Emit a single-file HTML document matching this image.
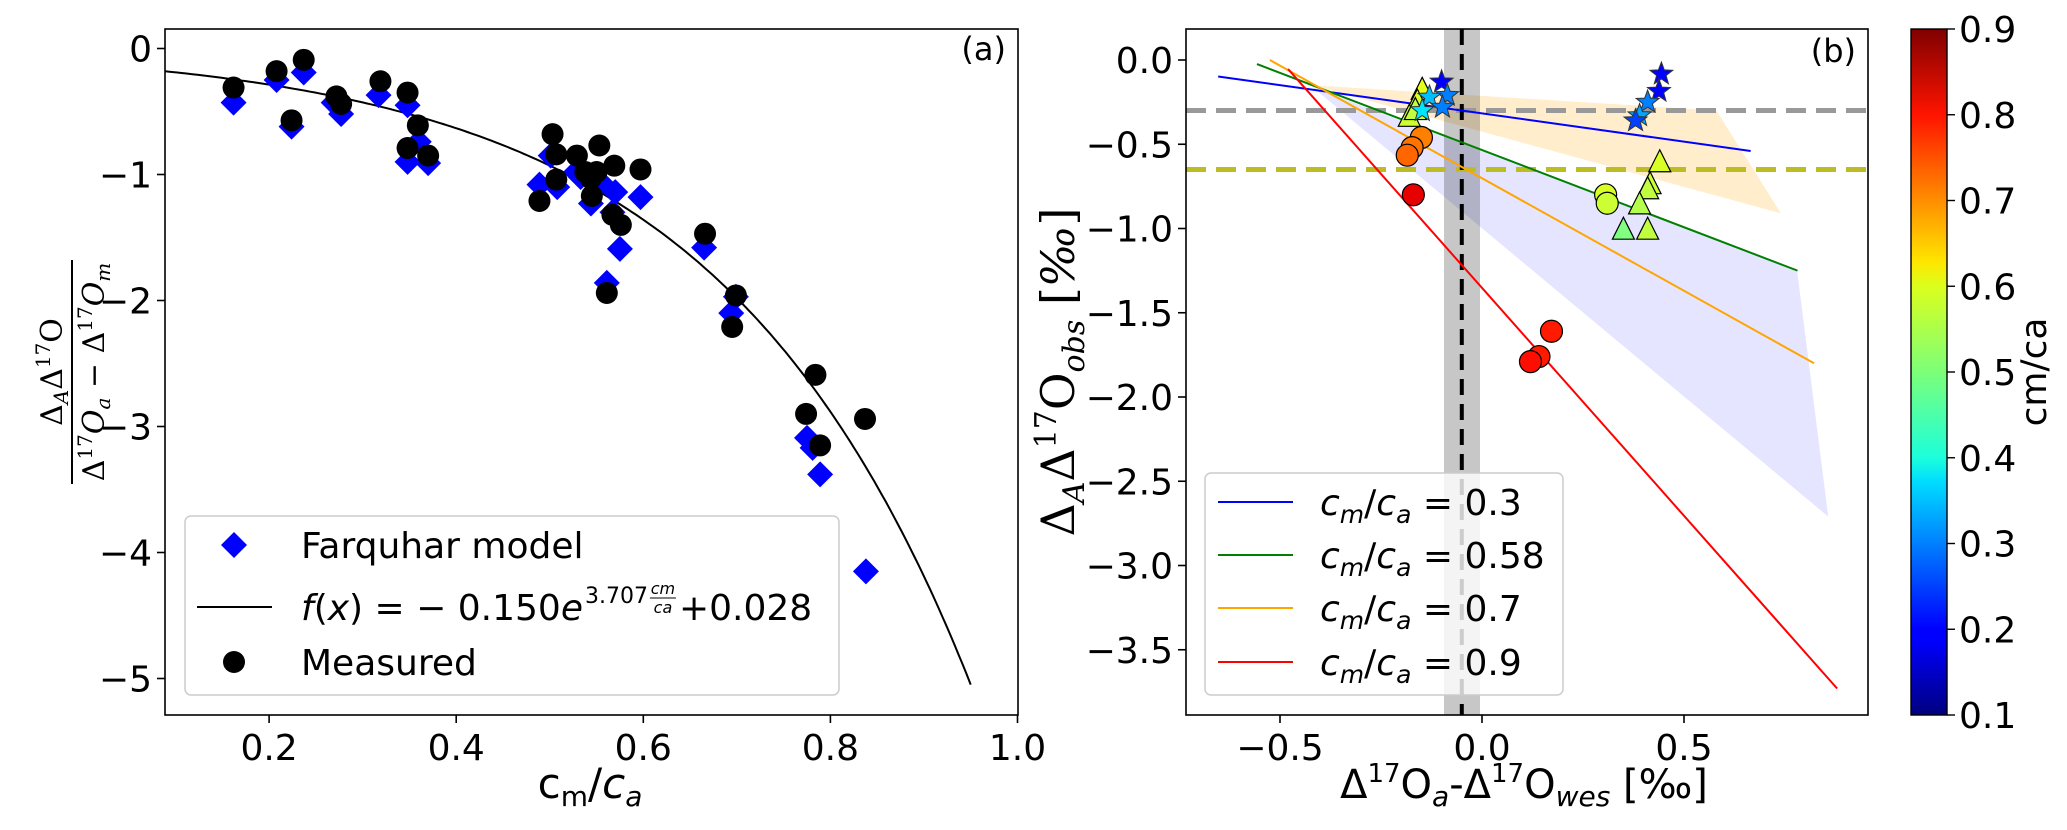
<!DOCTYPE html>
<html><head><meta charset="utf-8"><style>
body{margin:0;background:#fff;}
svg{display:block;font-family:"DejaVu Sans","Liberation Sans",sans-serif;}
</style></head><body>
<svg id="fig" width="2067" height="830" viewBox="0 0 2067 830" xmlns="http://www.w3.org/2000/svg">
<defs>
<linearGradient id="jet" x1="0" y1="1" x2="0" y2="0">
<stop offset="0" stop-color="#00007f"/><stop offset="0.11" stop-color="#0000ff"/><stop offset="0.125" stop-color="#0000ff"/>
<stop offset="0.34" stop-color="#00dcff"/><stop offset="0.375" stop-color="#1cffdb"/>
<stop offset="0.5" stop-color="#7cff79"/><stop offset="0.625" stop-color="#dbff1c"/><stop offset="0.66" stop-color="#ffe600"/>
<stop offset="0.875" stop-color="#ff1400"/><stop offset="1" stop-color="#7f0000"/>
</linearGradient>
<clipPath id="clipA"><rect x="165" y="29" width="853" height="686"/></clipPath>
<clipPath id="clipB"><rect x="1186" y="29" width="682" height="686"/></clipPath>
</defs>
<g id="panelA"></g>
<g id="panelB"></g>
<g id="cbar"></g>
</svg>
<script>
// ---------- Panel A data ----------
const measX=[0.162,0.208,0.224,0.237,0.272,0.277,0.319,0.348,0.348,0.359,0.370,0.489,0.503,0.507,0.507,0.529,0.538,0.544,0.550,0.553,0.545,0.569,0.567,0.576,0.561,0.597,0.666,0.699,0.695,0.784,0.774,0.789,0.837];
const measY=[-0.31,-0.18,-0.57,-0.09,-0.38,-0.44,-0.26,-0.35,-0.79,-0.61,-0.85,-1.21,-0.68,-0.84,-1.04,-0.85,-0.98,-1.03,-0.98,-0.77,-1.17,-0.93,-1.32,-1.40,-1.94,-0.96,-1.47,-1.96,-2.21,-2.59,-2.90,-3.15,-2.94];
const farqX=[0.162,0.208,0.224,0.237,0.269,0.277,0.317,0.348,0.348,0.360,0.370,0.489,0.501,0.508,0.528,0.533,0.544,0.554,0.570,0.567,0.575,0.561,0.597,0.665,0.699,0.694,0.775,0.781,0.789,0.838];
const farqY=[-0.43,-0.25,-0.62,-0.19,-0.43,-0.52,-0.37,-0.45,-0.90,-0.74,-0.91,-1.08,-0.85,-1.10,-0.98,-1.02,-1.23,-1.06,-1.14,-1.30,-1.59,-1.86,-1.18,-1.58,-1.97,-2.10,-3.09,-3.17,-3.38,-4.15];
const fitA=-0.150, fitB=3.707, fitC=0.028;
const aXTicks=[0.2,0.4,0.6,0.8,1.0];
const aXTickLabels=["0.2","0.4","0.6","0.8","1.0"];
const aYTicks=[0,-1,-2,-3,-4,-5];
const aYTickLabels=["0","\u22121","\u22122","\u22123","\u22124","\u22125"];
// ---------- Panel B data ----------
const lineCm=[0.3,0.58,0.7,0.9];
const lineColors=["#0000ff","#008000","#ffa500","#ff0000"];
const lineX0=[-0.653,-0.557,-0.525,-0.48];
const lineY0=[-0.098,-0.024,0.0,-0.054];
const lineX1=[0.665,0.781,0.822,0.879];
const lineY1=[-0.54,-1.25,-1.80,-3.73];
const shadeOrangeX=[-0.42,0.58,0.74];
const shadeOrangeY=[-0.15,-0.30,-0.91];
const shadeBlueX=[-0.42,0.78,0.857];
const shadeBlueY=[-0.16,-1.25,-2.71];
const hGray=-0.3, hYellow=-0.65, vBlack=-0.05, bandLo=-0.094, bandHi=-0.005;
const starX=[-0.10,-0.086,-0.13,-0.148,-0.098,0.444,0.438,0.41,0.39,0.38];
const starY=[-0.13,-0.21,-0.22,-0.30,-0.28,-0.083,-0.185,-0.25,-0.33,-0.36];
const starC=[0.2,0.3,0.35,0.38,0.3,0.2,0.2,0.3,0.33,0.25];
const triX=[-0.148,-0.16,-0.18,-0.165,0.44,0.416,0.41,0.39,0.35,0.41];
const triY=[-0.18,-0.25,-0.34,-0.30,-0.61,-0.74,-0.77,-0.86,-1.01,-1.01];
const triC=[0.58,0.57,0.56,0.55,0.57,0.56,0.55,0.54,0.5,0.55];
const circX=[-0.15,-0.173,-0.185,-0.17,0.306,0.31,0.172,0.141,0.12];
const circY=[-0.46,-0.52,-0.565,-0.80,-0.80,-0.85,-1.61,-1.76,-1.79];
const circC=[0.7,0.71,0.72,0.82,0.57,0.56,0.78,0.78,0.79];
const bXTicks=[-0.5,0.0,0.5];
const bXTickLabels=["\u22120.5","0.0","0.5"];
const bYTicks=[0,-0.5,-1,-1.5,-2,-2.5,-3,-3.5];
const bYTickLabels=["0.0","\u22120.5","\u22121.0","\u22121.5","\u22122.0","\u22122.5","\u22123.0","\u22123.5"];
const cbTicks=[0.1,0.2,0.3,0.4,0.5,0.6,0.7,0.8,0.9];
const cbTickLabels=["0.1","0.2","0.3","0.4","0.5","0.6","0.7","0.8","0.9"];

const NS="http://www.w3.org/2000/svg";
function mk(tag,attrs,parent){const e=document.createElementNS(NS,tag);for(const k in attrs)e.setAttribute(k,attrs[k]);parent.appendChild(e);return e;}
function jet(v){let t=(v-0.1)/0.8;t=Math.max(0,Math.min(1,t));
 const r=Math.max(0,Math.min(1,Math.min(4*t-1.5,-4*t+4.5)));
 const g=Math.max(0,Math.min(1,Math.min(4*t-0.5,-4*t+3.5)));
 const b=Math.max(0,Math.min(1,Math.min(4*t+0.5,-4*t+2.5)));
 return `rgb(${Math.round(r*255)},${Math.round(g*255)},${Math.round(b*255)})`;}

// ===== Panel A =====
const A=document.getElementById('panelA');
const aL=165,aR=1018,aT=29,aB=715;
const axX=x=>82+ (x)*935.5;
const axY=y=>48.5-y*126;
const plotA=mk('g',{'clip-path':'url(#clipA)'},A);


let d='';for(let i=0;i<=200;i++){const x=0.089+(0.95-0.089)*i/200;const y=fitA*Math.exp(fitB*x)+fitC;d+=(i?'L':'M')+axX(x).toFixed(1)+','+axY(y).toFixed(1);}
const fc=mk('path',{d:d,fill:'none',stroke:'#000','stroke-width':2},plotA);


for(let i=0;i<farqX.length;i++){const cx=axX(farqX[i]),cy=axY(farqY[i]),s=13;
 const p=mk('polygon',{points:`${cx},${cy-s} ${cx+s},${cy} ${cx},${cy+s} ${cx-s},${cy}`,fill:'#0000ff'},plotA);
 
 }
for(let i=0;i<measX.length;i++){
 const c=mk('circle',{cx:axX(measX[i]),cy:axY(measY[i]),r:11,fill:'#000'},plotA);
 
 }
mk('rect',{x:aL,y:aT,width:aR-aL,height:aB-aT,fill:'none',stroke:'#000','stroke-width':1.6},A);
for(let i=0;i<aXTicks.length;i++){const x=axX(aXTicks[i]);
 mk('line',{x1:x,x2:x,y1:aB,y2:aB+8,stroke:'#000','stroke-width':1.6},A);
 const t=mk('text',{x:x,y:aB+45,'font-size':36,'text-anchor':'middle'},A);t.textContent=aXTickLabels[i];
 
 }
for(let i=0;i<aYTicks.length;i++){const y=axY(aYTicks[i]);
 mk('line',{x1:aL-8,x2:aL,y1:y,y2:y,stroke:'#000','stroke-width':1.6},A);
 const t=mk('text',{x:aL-13,y:y+13,'font-size':36,'text-anchor':'end'},A);t.textContent=aYTickLabels[i];
 
 }
</script>
<script>
(function(){
const A=document.getElementById('panelA');
A.insertAdjacentHTML('beforeend',`
<text x="1006" y="60" font-size="32" text-anchor="end">(a)</text>
<g>
<rect x="185" y="516" width="654" height="179" rx="6" fill="#fff" fill-opacity="0.8" stroke="#ccc" stroke-width="1.5"/>
<polygon points="234,532 247,545 234,558 221,545" fill="#0000ff"/>
<text x="301" y="558" font-size="36">Farquhar model</text>
<line x1="197" x2="272" y1="607" y2="607" stroke="#000" stroke-width="2"/>
<text id="fitMain" x="301" y="620" font-size="36"><tspan font-style="italic">f</tspan>(<tspan font-style="italic">x</tspan>) = − 0.150<tspan font-style="italic">e</tspan></text>
<circle cx="234" cy="662" r="11" fill="#000"/>
<text x="301" y="675" font-size="36">Measured</text>
</g>
<text x="590" y="798" font-size="42" text-anchor="middle">c<tspan font-size="28" dy="8">m</tspan><tspan dy="-8">/</tspan><tspan font-style="italic">c</tspan><tspan font-size="28" dy="8" font-style="italic">a</tspan></text>
<g transform="translate(72,372) rotate(-90)" font-family="DejaVu Serif, serif">
<text x="0" y="-10" font-size="30" text-anchor="middle">Δ<tspan font-size="20" dy="6" font-style="italic">A</tspan><tspan dy="-6">Δ</tspan><tspan font-size="20" dy="-12">17</tspan><tspan dy="12">O</tspan></text>
<line x1="-112" x2="112" y1="0" y2="0" stroke="#000" stroke-width="2"/>
<text x="0" y="32" font-size="30" text-anchor="middle">Δ<tspan font-size="20" dy="-12">17</tspan><tspan dy="12" font-style="italic">O</tspan><tspan font-size="20" dy="6" font-style="italic">a</tspan><tspan dy="-6"> − Δ</tspan><tspan font-size="20" dy="-12">17</tspan><tspan dy="12" font-style="italic">O</tspan><tspan font-size="20" dy="6" font-style="italic">m</tspan></text>
</g>`);
const fm=document.getElementById('fitMain');
let x=301+fm.getComputedTextLength()+2;
const g=fm.parentNode;
const ex=mk('text',{x:x,y:603,'font-size':22},g);ex.textContent='3.707';


x+=ex.getComputedTextLength()+2;
const nu=mk('text',{x:x+13,y:594,'font-size':16,'font-style':'italic','text-anchor':'middle'},g);nu.textContent='cm';


mk('line',{x1:x,x2:x+26,y1:598,y2:598,stroke:'#000','stroke-width':1},g);
const de=mk('text',{x:x+13,y:613,'font-size':16,'font-style':'italic','text-anchor':'middle'},g);de.textContent='ca';


const tl=mk('text',{x:x+29,y:620,'font-size':36},g);tl.textContent='+0.028';


})();
</script>
<script>
(function(){
const B=document.getElementById('panelB');
const bL=1186,bR=1868,bT=29,bB=715;
const bx=x=>1482+x*404;
const by=y=>60-y*168.5;
const P=mk('g',{'clip-path':'url(#clipB)'},B);


let pts=shadeBlueX.map((x,i)=>bx(x)+','+by(shadeBlueY[i])).join(' ');
const s1=mk('polygon',{points:pts,fill:'#0000ff','fill-opacity':0.1},P);


pts=shadeOrangeX.map((x,i)=>bx(x)+','+by(shadeOrangeY[i])).join(' ');
const s2=mk('polygon',{points:pts,fill:'#ffa500','fill-opacity':0.2},P);


const band=mk('rect',{x:bx(bandLo),y:bT,width:bx(bandHi)-bx(bandLo),height:bB-bT,fill:'#000','fill-opacity':0.22},P);


const hg=mk('line',{x1:bL,x2:bR,y1:by(hGray),y2:by(hGray),stroke:'#999','stroke-width':5,'stroke-dasharray':'20 10'},P);


const hy=mk('line',{x1:bL,x2:bR,y1:by(hYellow),y2:by(hYellow),stroke:'#bcbd22','stroke-width':5,'stroke-dasharray':'20 10'},P);


const vb=mk('line',{x1:bx(vBlack),x2:bx(vBlack),y1:bT,y2:bB,stroke:'#000','stroke-width':4,'stroke-dasharray':'16 9'},P);


for(let i=0;i<lineCm.length;i++){
 const l=mk('line',{x1:bx(lineX0[i]),y1:by(lineY0[i]),x2:bx(lineX1[i]),y2:by(lineY1[i]),stroke:lineColors[i],'stroke-width':2},P);
 
 }
for(let i=0;i<triX.length;i++){const cx=bx(triX[i]),cy=by(triY[i]);
 const t=mk('polygon',{points:`${cx},${cy-13} ${cx+11},${cy+9} ${cx-11},${cy+9}`,fill:jet(triC[i]),stroke:'#000','stroke-width':1.2},P);
 
 }
for(let i=0;i<circX.length;i++){
 const c=mk('circle',{cx:bx(circX[i]),cy:by(circY[i]),r:11,fill:jet(circC[i]),stroke:'#000','stroke-width':1.2},P);
 
 }
for(let i=0;i<starX.length;i++){const cx=bx(starX[i]),cy=by(starY[i]);let p='';
 for(let k=0;k<10;k++){const r=k%2?5:12,a=-Math.PI/2+k*Math.PI/5;p+=(cx+r*Math.cos(a)).toFixed(1)+','+(cy+r*Math.sin(a)).toFixed(1)+' ';}
 const s=mk('polygon',{points:p,fill:jet(starC[i]),stroke:'#333','stroke-width':1},P);
 
 }
mk('rect',{x:bL,y:bT,width:bR-bL,height:bB-bT,fill:'none',stroke:'#000','stroke-width':1.6},B);
for(let i=0;i<bXTicks.length;i++){const x=bx(bXTicks[i]);
 mk('line',{x1:x,x2:x,y1:bB,y2:bB+8,stroke:'#000','stroke-width':1.6},B);
 const t=mk('text',{x:x,y:bB+45,'font-size':36,'text-anchor':'middle'},B);t.textContent=bXTickLabels[i];
 
 }
for(let i=0;i<bYTicks.length;i++){const y=by(bYTicks[i]);
 mk('line',{x1:bL-8,x2:bL,y1:y,y2:y,stroke:'#000','stroke-width':1.6},B);
 const t=mk('text',{x:bL-13,y:y+13,'font-size':36,'text-anchor':'end'},B);t.textContent=bYTickLabels[i];
 
 }
const lg=mk('g',{},B);


mk('rect',{x:1205,y:473,width:358,height:222,rx:6,fill:'#fff','fill-opacity':0.8,stroke:'#ccc','stroke-width':1.5},lg);
const rows=[502,555,608,662];
for(let i=0;i<lineCm.length;i++){
 mk('line',{x1:1218,x2:1293,y1:rows[i],y2:rows[i],stroke:lineColors[i],'stroke-width':2},lg);
 const t=mk('text',{x:1320,y:rows[i]+13,'font-size':36},lg);
 t.innerHTML=`<tspan font-style="italic">c</tspan><tspan font-style="italic" font-size="25" dy="8">m</tspan><tspan dy="-8">/</tspan><tspan font-style="italic">c</tspan><tspan font-style="italic" font-size="25" dy="8">a</tspan><tspan dy="-8"> = ${lineCm[i]}</tspan>`;
 
 }
B.insertAdjacentHTML('beforeend',`
<text x="1856" y="62" font-size="32" text-anchor="end">(b)</text>
<text x="1524" y="798" font-size="40" text-anchor="middle">Δ<tspan font-size="26" dy="-16">17</tspan><tspan dy="16">O</tspan><tspan font-size="28" dy="8" font-style="italic">a</tspan><tspan dy="-8">-Δ</tspan><tspan font-size="26" dy="-16">17</tspan><tspan dy="16">O</tspan><tspan font-size="28" dy="8" font-style="italic">wes</tspan><tspan dy="-8"> [‰]</tspan></text>
<text transform="translate(1074,372) rotate(-90)" font-size="46" text-anchor="middle" font-family="DejaVu Serif, serif">Δ<tspan font-size="30" dy="10" font-style="italic">A</tspan><tspan dy="-10">Δ</tspan><tspan font-size="30" dy="-18">17</tspan><tspan dy="18">O</tspan><tspan font-size="30" dy="10" font-style="italic">obs</tspan><tspan dy="-10"> [</tspan><tspan font-style="italic">‰</tspan>]</text>`);
})();
(function(){
const C=document.getElementById('cbar');
const cT=29,cB=715,cL=1911,cR=1947;
const cy=v=>cB-(v-0.1)/0.8*(cB-cT);
mk('rect',{x:cL,y:cT,width:cR-cL,height:cB-cT,fill:'url(#jet)',stroke:'#000','stroke-width':1.4},C);
for(let i=0;i<cbTicks.length;i++){const y=cy(cbTicks[i]);
 mk('line',{x1:cR,x2:cR+8,y1:y,y2:y,stroke:'#000','stroke-width':1.4},C);
 const t=mk('text',{x:cR+12,y:y+13,'font-size':36},C);t.textContent=cbTickLabels[i];
 
 }
C.insertAdjacentHTML('beforeend',`<text transform="translate(2046,372) rotate(-90)" font-size="36" text-anchor="middle">cm/ca</text>`);
})();
</script>
</body></html>
